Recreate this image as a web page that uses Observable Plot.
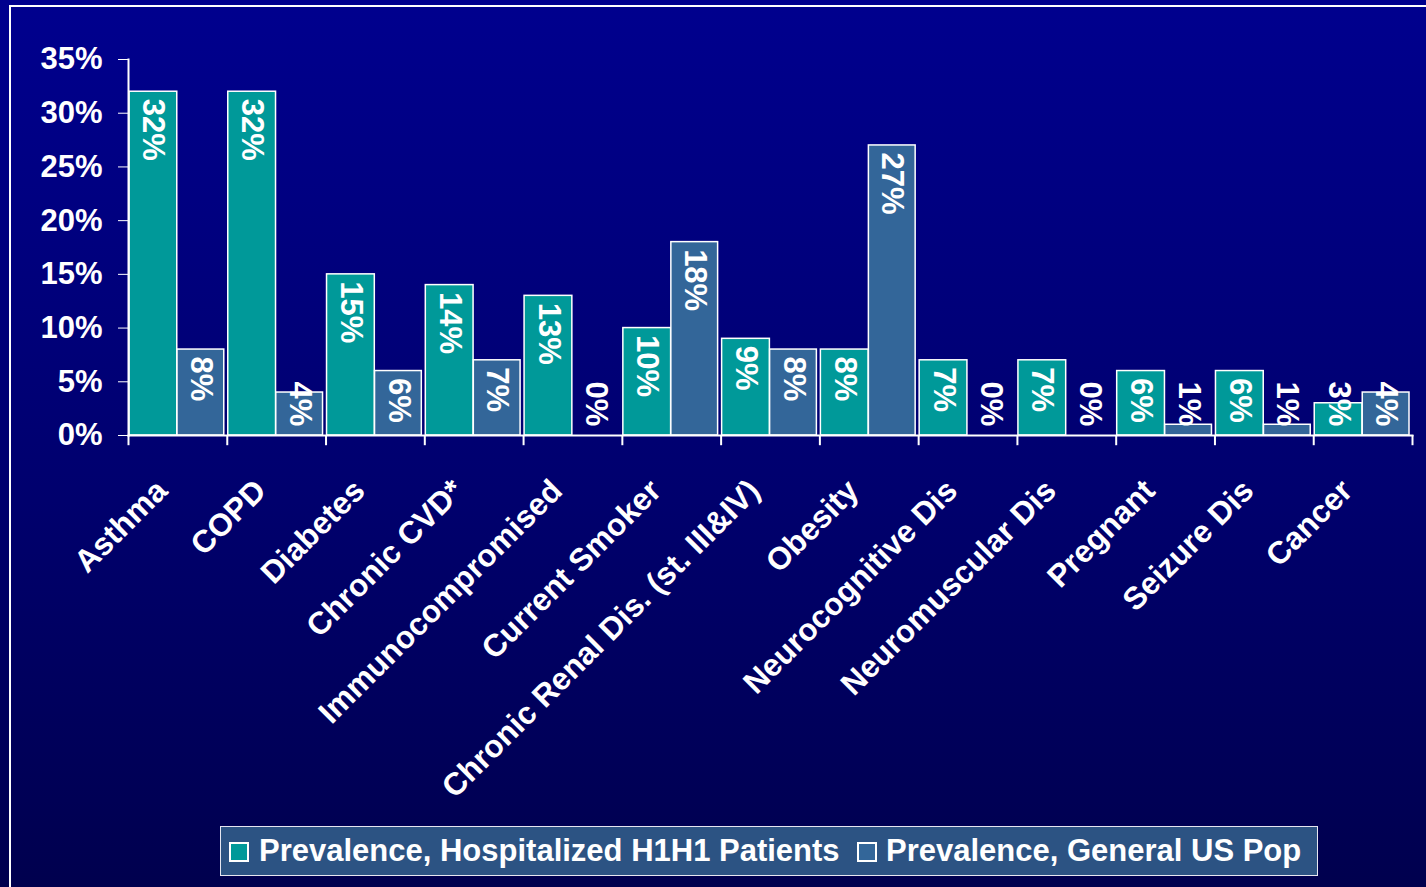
<!DOCTYPE html>
<html>
<head>
<meta charset="utf-8">
<script src="https://cdn.jsdelivr.net/npm/d3@7"></script>
<script src="https://cdn.jsdelivr.net/npm/@observablehq/plot@0.6"></script>
<style>
  html, body { margin: 0; padding: 0; }
  #page {
    position: relative; width: 1426px; height: 887px; overflow: hidden;
    background: linear-gradient(to bottom, #00008e 0%, #00006e 55%, #00004e 100%);
    font-family: "Liberation Sans", Arial, sans-serif;
  }
  #frame {
    position: absolute; left: 9px; top: 5px; width: 1500px; height: 1000px;
    border-top: 2px solid #ffffff; border-left: 2px solid #ffffff;
  }
  #chart { position: absolute; left: 0; top: 0; }
  #legend {
    position: absolute; left: 220px; top: 826px; width: 1098px; height: 50px;
    box-sizing: border-box; background: #2c5383; border: 1.5px solid #e6e6f0;
  }
  .sw { position: absolute; top: 15px; width: 16px; height: 16px; border: 2px solid #ffffff; }
  .lt { position: absolute; top: 5px; color: #ffffff; font-weight: bold; font-size: 31px; line-height: 38px; white-space: nowrap; }
</style>
</head>
<body>
<div id="page">
  <div id="frame"></div>
  <div id="chart"></div>
  <div id="legend"></div>
</div>
<script>
const categories = ["Asthma", "COPD", "Diabetes", "Chronic CVD*", "Immunocompromised", "Current Smoker",
  "Chronic Renal Dis. (st. III&IV)", "Obesity", "Neurocognitive Dis", "Neuromuscular Dis", "Pregnant", "Seizure Dis", "Cancer"];
const hospitalized = [32, 32, 15, 14, 13, 10, 9, 8, 7, 7, 6, 6, 3];
const generalPop = [8, 4, 6, 7, 0, 18, 8, 27, 0, 0, 1, 1, 4];
const seriesNames = ["Prevalence, Hospitalized H1H1 Patients", "Prevalence, General US Pop"];
const seriesColors = ["#009999", "#336699"];
const yTicks = [0, 5, 10, 15, 20, 25, 30, 35];

const font = "Liberation Sans, Arial, sans-serif";
const hosp = categories.map((c, i) => ({cat: c, v: hospitalized[i]}));
const gen = categories.map((c, i) => ({cat: c, v: generalPop[i]}));
const labelY = d => Math.max(d.v, 5.68);

const W = 1426, H = 810;
const marginLeft = 128, marginRight = 14, marginTop = 59, marginBottom = H - 435;
const step = (W - marginLeft - marginRight) / categories.length;

const plot = Plot.plot({
  width: W, height: H,
  marginLeft, marginRight, marginTop, marginBottom,
  style: {background: "transparent", color: "#ffffff", fontFamily: font, overflow: "visible"},
  x: {type: "band", domain: categories, padding: 0, round: false, axis: null},
  y: {domain: [0, 35], axis: null, label: null},
  marks: [
    Plot.barY(hosp, {x: "cat", y: "v", fill: seriesColors[0], stroke: "#ffffff", strokeWidth: 1.5, insetLeft: 1, insetRight: 50}),
    Plot.barY(gen, {x: "cat", y: "v", fill: seriesColors[1], stroke: "#ffffff", strokeWidth: 1.5, insetLeft: 49, insetRight: 3}),
    Plot.frame({anchor: "left", stroke: "#ffffff", strokeWidth: 2}),
    Plot.frame({anchor: "bottom", stroke: "#ffffff", strokeWidth: 2}),
    Plot.axisY({ticks: yTicks, tickFormat: d => d + "%", label: null, tickSize: 10, tickPadding: 16, stroke: "#ffffff",
      fill: "#ffffff", fontSize: 31, fontWeight: "bold", fontFamily: font}),
    Plot.ruleX(categories, {x: d => d, y1: 0, y2: -0.95, dx: -step / 2, stroke: "#ffffff", strokeWidth: 2}),
    Plot.ruleX(categories.slice(-1), {x: d => d, y1: 0, y2: -0.95, dx: step / 2, stroke: "#ffffff", strokeWidth: 2}),
    Plot.text(hosp, {x: "cat", y: labelY, text: d => d.v + "%", rotate: 90, textAnchor: "start", lineAnchor: "middle",
      dx: -24.5, dy: 7, fill: "#ffffff", fontSize: 31, fontWeight: "bold", fontFamily: font}),
    Plot.text(gen, {x: "cat", y: labelY, text: d => d.v + "%", rotate: 90, textAnchor: "start", lineAnchor: "middle",
      dx: 23, dy: 7, fill: "#ffffff", fontSize: 31, fontWeight: "bold", fontFamily: font}),
    Plot.text(categories, {x: d => d, frameAnchor: "bottom", text: d => d, rotate: -45, textAnchor: "end", lineAnchor: "middle",
      dx: -16, dy: 50, fill: "#ffffff", fontSize: 31.5, fontWeight: "bold", fontFamily: font})
  ]
});
document.getElementById("chart").appendChild(plot);

const legend = document.getElementById("legend");
const swLeft = [8, 636], txtLeft = [38, 665];
seriesNames.forEach((name, i) => {
  const sw = document.createElement("div");
  sw.className = "sw"; sw.style.left = swLeft[i] + "px"; sw.style.background = seriesColors[i];
  legend.appendChild(sw);
  const t = document.createElement("div");
  t.className = "lt"; t.style.left = txtLeft[i] + "px"; t.textContent = name;
  legend.appendChild(t);
});
</script>
</body>
</html>
